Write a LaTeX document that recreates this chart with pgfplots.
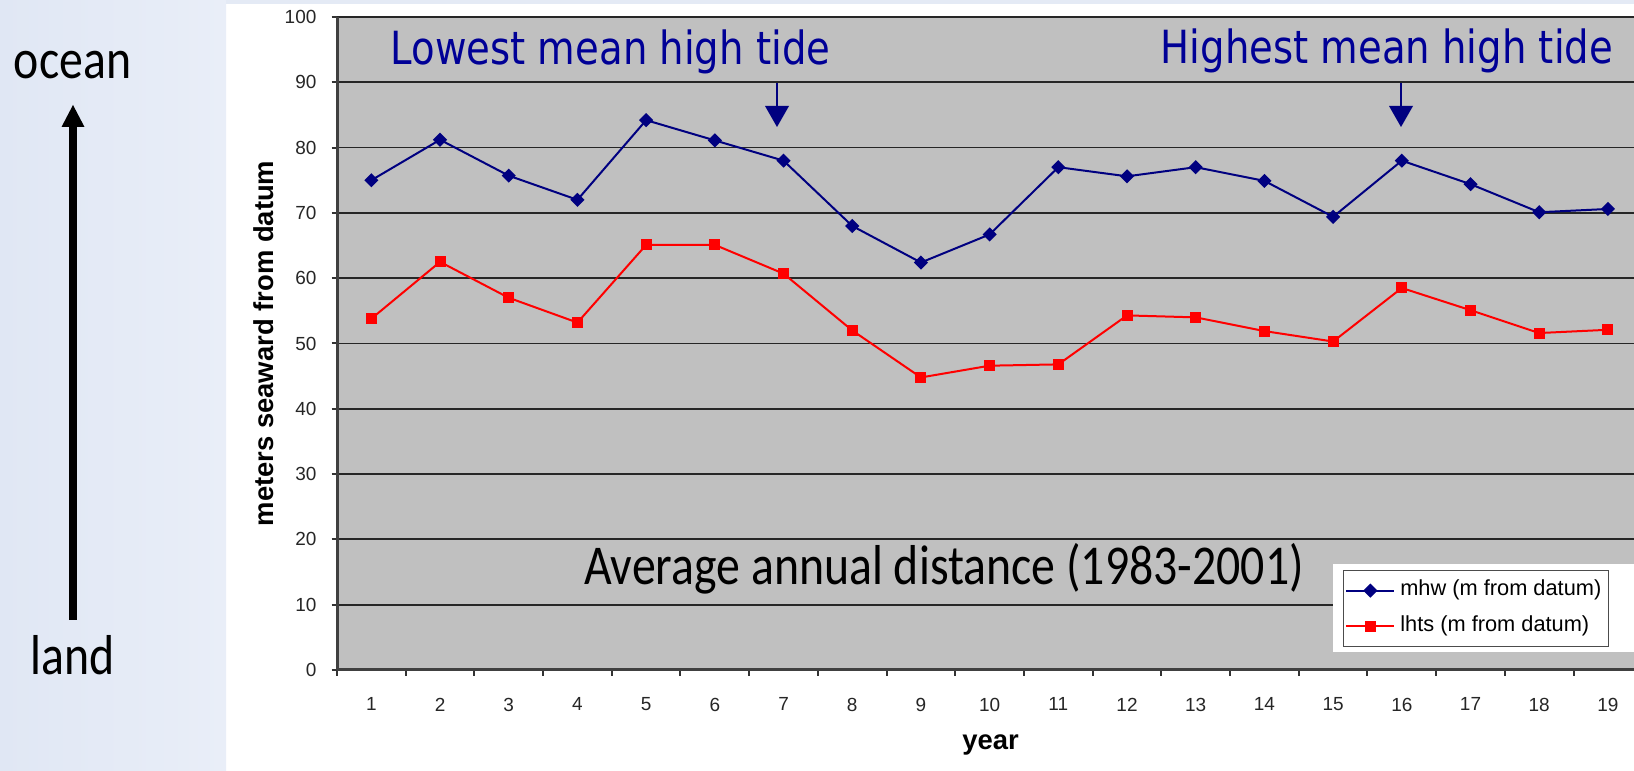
\documentclass[border=0pt]{standalone}
\usepackage{pgfplots}
\pgfplotsset{compat=1.18}
\usepackage{fontspec}
\setmainfont{Liberation Sans}
\newfontfamily\tahoma[FakeStretch=0.845]{DejaVu Sans}
\newfontfamily\calibri[FakeStretch=0.85]{Carlito}
\definecolor{bluebg}{RGB}{228,234,245}
\definecolor{bluebgL}{RGB}{224,231,244}
\definecolor{bluebgR}{RGB}{233,238,248}
\definecolor{plotgray}{RGB}{192,192,192}
\definecolor{navyline}{RGB}{0,0,128}
\definecolor{navytext}{RGB}{0,0,150}
\begin{document}
\begin{tikzpicture}
\useasboundingbox (0,0) rectangle (163.4mm,77.1mm);
\fill[white] (0,0) rectangle (163.4mm,77.1mm);
\shade[left color=bluebgL, right color=bluebgR] (0,0) rectangle (22.6mm,77.1mm);
\fill[bluebg] (22.6mm,76.7mm) rectangle (163.4mm,77.1mm);
\begin{axis}[
  at={(33.7mm,10.1mm)}, anchor=south west,
  scale only axis, width=129.7mm, height=65.3mm,
  xmin=0.5, xmax=19.38, ymin=0, ymax=100,
  axis x line*=bottom, axis y line*=left,
  axis line style={-, line width=0.3mm, color=black!75},
  axis background/.style={fill=plotgray},
  ytick={0,10,...,100},
  ymajorgrids,
  major grid style={black!85, line width=0.18mm},
  xtick={1,...,19},
  major x tick style={draw=none},
  minor xtick={0.5,1.5,...,18.5},
  tick align=outside,
  major tick length=0.55mm, minor tick length=0.6mm,
  tick style={black!80, line width=0.2mm},
  ticklabel style={font=\fontsize{5.4}{6}\selectfont, color=black!85},
  /pgf/number format/assume math mode=true,
  yticklabel style={xshift=-0.27mm},
  xticklabel style={yshift=-1mm},
  ylabel={meters seaward from datum},
  ylabel style={font=\bfseries\fontsize{7.8}{9}\selectfont, at={(axis description cs:-0.0563,0.5)}, anchor=center},
  xlabel={year},
  xlabel style={font=\bfseries\fontsize{7.8}{9}\selectfont, at={(axis description cs:0.504,-0.121)}, anchor=base},
  legend style={at={(axis cs:15.14,15.31)}, anchor=north west, draw=black!70, line width=0.12mm, fill=white,
    font=\fontsize{6.2}{7}\selectfont, inner xsep=0.2mm, inner ysep=0.45mm, row sep=0.45mm,
    nodes={inner sep=0.5mm}},
  legend cell align=left,
  legend image code/.code={\draw[mark repeat=2,mark phase=2,#1] plot coordinates {(0mm,0mm) (2.4mm,0mm) (4.8mm,0mm)};},
]
\addplot[color=navyline, line width=0.2mm, mark=square*, mark size=0.4mm, mark options={rotate=45, fill=navyline, solid}]
 coordinates {(1,75) (2,81.2) (3,75.7) (4,72) (5,84.2) (6,81.1) (7,78) (8,68) (9,62.4) (10,66.7) (11,77) (12,75.6) (13,77) (14,74.9) (15,69.4) (16,78) (17,74.4) (18,70.1) (19,70.6)};
\addlegendentry{mhw (m from datum)}
\addplot[color=red, line width=0.2mm, mark=square*, mark size=0.45mm, mark options={fill=red, solid}]
 coordinates {(1,53.8) (2,62.5) (3,57) (4,53.2) (5,65.1) (6,65.1) (7,60.7) (8,52) (9,44.8) (10,46.6) (11,46.8) (12,54.3) (13,54) (14,51.9) (15,50.3) (16,58.5) (17,55.1) (18,51.6) (19,52.1)};
\addlegendentry{lhts (m from datum)}
\fill[white] (axis cs:15.0,2.76) rectangle (axis cs:19.38,16.22);
\end{axis}
% annotations
\node[anchor=base west, inner sep=0, text=navytext, font=\tahoma\fontsize{13}{15}\selectfont] at (39.0mm,70.6mm) {Lowest mean high tide};
\node[anchor=base west, inner sep=0, text=navytext, font=\tahoma\fontsize{13}{15}\selectfont] at (116.0mm,70.7mm) {Highest mean high tide};
\draw[navyline, line width=0.22mm] (77.7mm,68.8mm) -- (77.7mm,66.0mm);
\fill[navyline] (76.5mm,66.5mm) -- (78.9mm,66.5mm) -- (77.7mm,64.4mm) -- cycle;
\draw[navyline, line width=0.22mm] (140.1mm,68.8mm) -- (140.1mm,66.0mm);
\fill[navyline] (138.9mm,66.5mm) -- (141.3mm,66.5mm) -- (140.1mm,64.4mm) -- cycle;
\node[anchor=base, inner sep=0, font=\calibri\fontsize{16}{19}\selectfont] at (94.4mm,18.6mm) {Average annual distance (1983-2001)};
% left panel
\draw[black, line width=0.85mm] (7.3mm,15.1mm) -- (7.3mm,64.6mm);
\fill[black] (6.15mm,64.4mm) -- (8.45mm,64.4mm) -- (7.3mm,66.6mm) -- cycle;
\node[anchor=base, inner sep=0, font=\calibri\fontsize{16}{19}\selectfont] at (7.25mm,69.2mm) {ocean};
\node[anchor=base, inner sep=0, font=\calibri\fontsize{16}{19}\selectfont] at (7.25mm,9.6mm) {land};
\end{tikzpicture}
\end{document}
